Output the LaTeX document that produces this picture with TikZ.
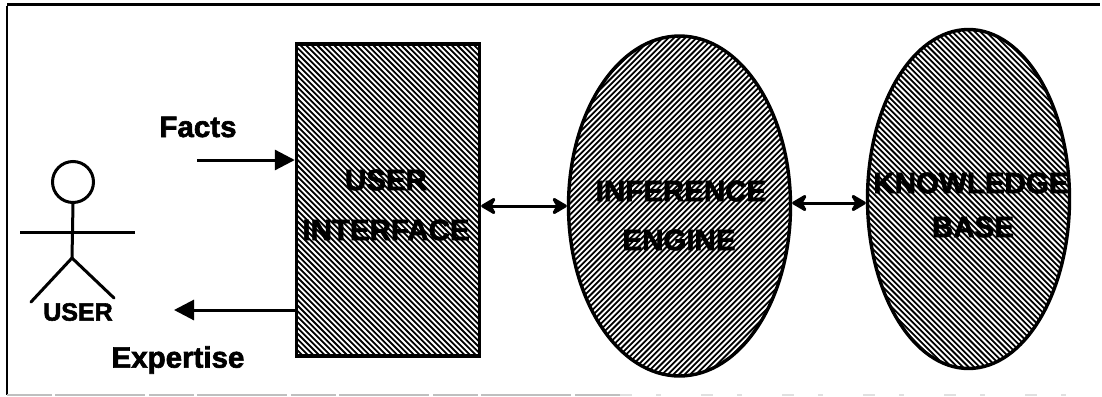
\documentclass[tikz,border=0pt]{standalone}
\usepackage{fontspec}
\setmainfont{Liberation Sans}
\newfontfamily\heavyfont[FakeBold=2.2]{Liberation Sans Bold}
\usetikzlibrary{arrows.meta,shapes.geometric,calc}
\tikzset{
  hatchfill/.style={draw=black,line width=3.4pt,inner sep=0pt,fill=white,
    path picture={
      \foreach \k in {-70,...,70}{
        \draw[black,line width=1.8pt]
          ($(path picture bounding box.center)+(\k*5.6pt-400pt,#1*400pt)$) --
          ($(path picture bounding box.center)+(\k*5.6pt+400pt,-#1*400pt)$);
      }
    }},
  boxshape/.style={hatchfill=1,rectangle,minimum width=183pt,minimum height=312pt},
  ovalshape/.style={hatchfill=#1,ellipse},
  lbl/.style={font=\heavyfont\fontsize{29.5}{34}\selectfont,inner sep=0pt,text=black},
  lblsmall/.style={font=\heavyfont\fontsize{25}{30}\selectfont,inner sep=0pt,text=black},
  figure/.style={line width=3pt,black},
  solidarrow/.style={line width=3pt,-{Triangle[length=20pt,width=20pt]}},
  twoway/.style={line width=3pt,{Stealth[length=18pt,width=21pt,inset=6pt,round]}-{Stealth[length=18pt,width=21pt,inset=6pt,round]}},
}
\begin{document}
\begin{tikzpicture}[x=1pt,y=-1pt]
\useasboundingbox (0,0) rectangle (1102,396);
% frame
\coordinate (ftl) at (7,5);
\coordinate (ftr) at (1100,5);
\coordinate (fbl) at (7,395);
\coordinate (fmid) at (620,395);
\coordinate (fbr) at (1100,395);
\draw[line width=3pt,black] (ftl) -- (ftr);
\draw[line width=2.2pt,black] ([yshift=-1pt]ftl) -- (fbl);
\draw[line width=1.4pt,black!25,dash pattern=on 45pt off 3pt on 90pt off 4pt] (fbl) -- (fmid);
\draw[line width=1.2pt,black!12,dash pattern=on 12pt off 24pt on 5pt off 40pt] (fmid) -- (fbr);
% shapes
\node[boxshape] (ui) at (388,200) {};
\node[ovalshape=-1,minimum width=222pt,minimum height=340pt] (ie) at (679.5,206) {};
\node[ovalshape=1,minimum width=202pt,minimum height=339pt] (kb) at (968.5,199) {};
% shape labels
\node[lbl] (t1) at (386,180) {USER};
\node[lbl] (t2) at (386,230) {INTERFACE};
\node[lbl] (t3) at (681,191) {INFERENCE};
\node[lbl] (t4) at (679,240) {ENGINE};
\node[lbl] (t5) at (971,183) {KNOWLEDGE};
\node[lbl] (t6) at (973,227) {BASE};
% user figure
\node[draw,figure,circle,minimum size=41pt,inner sep=0pt] (head) at (73,182) {};
\coordinate (hip) at (72,258);
\coordinate (armL) at (20,232);
\coordinate (armR) at (135,232);
\coordinate (footL) at (31,302);
\coordinate (footR) at (114,298);
\draw[figure] (head.south) -- (hip);
\draw[figure] (armL) -- (armR);
\draw[figure,line cap=round] (footL) -- (hip) -- (footR);
\node[lblsmall] (userlabel) at (78,312) {USER};
% text
\node[lbl] (facts) at (198,127) {Facts};
\node[lbl] (expertise) at (178,360) {Expertise};
% connectors
\coordinate (factsstart) at (197,160);
\coordinate (expertiseend) at (174,310);
\draw[solidarrow] (factsstart) -- (factsstart -| ui.west);
\draw[solidarrow] (expertiseend -| ui.west) -- (expertiseend);
\draw[twoway] (ui.east |- ie.west) -- (ie.west);
\draw[twoway] ([yshift=3pt]ie.east) -- ([yshift=-4pt]kb.west);
\end{tikzpicture}
\end{document}
